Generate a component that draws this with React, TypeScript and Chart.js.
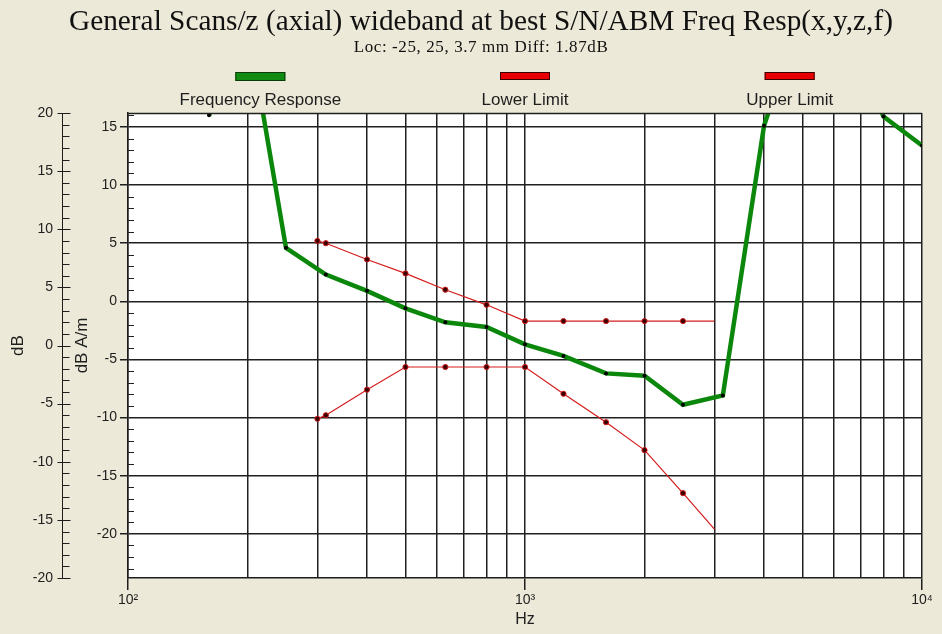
import React, { useEffect, useRef } from 'react';
import { Chart, registerables } from 'chart.js';

Chart.register(...registerables);

// Measured field response (1/3-octave bands)
const responseFreqs = [160, 200, 250, 315, 400, 500, 630, 800, 1000, 1250, 1600, 2000, 2500, 3150, 4000, 5000, 6300, 8000, 10000];
const responseDb = [16.0, 24.0, 4.6, 2.3, 0.9, -0.6, -1.8, -2.2, -3.7, -4.7, -6.2, -6.4, -8.9, -8.1, 15.1, 25.0, 24.0, 15.9, 13.4];

// Tolerance mask
const limitFreqs = [300, 315, 400, 500, 630, 800, 1000, 1250, 1600, 2000, 2500, 3000];
const lowerLimitDb = [-10.1, -9.8, -7.6, -5.65, -5.65, -5.65, -5.65, -7.95, -10.4, -12.8, -16.5, -19.6];
const upperLimitDb = [5.2, 5.0, 3.6, 2.4, 1.0, -0.3, -1.7, -1.7, -1.7, -1.7, -1.7, -1.7];

// Axis ticks
const decadeLabels: Record<number, string> = { 100: '10\u00B2', 1000: '10\u00B3', 10000: '10\u2074' };
const innerTicks = [-20, -15, -10, -5, 0, 5, 10, 15];
const outerTicks = [-20, -15, -10, -5, 0, 5, 10, 15, 20];
const innerRange = [-23.8, 16.2];
const outerRange = [-20, 20];

const TITLE = 'General Scans/z (axial) wideband at best S/N/ABM Freq Resp(x,y,z,f)';
const SUBTITLE = 'Loc: -25, 25, 3.7 mm Diff: 1.87dB';

const SANS = '"Liberation Sans", Arial, sans-serif';
const SERIF = '"Liberation Serif", "Times New Roman", serif';
const INK = '#1e1e1e';
const GRID = '#202020';

const pts = (xs: number[], ys: number[]) => xs.map((x, i) => ({ x, y: ys[i] }));

const isDecade = (v: number) => Object.prototype.hasOwnProperty.call(decadeLabels, v);

// Heading block: title and location line, centred over the axes and plot
const heading = {
  id: 'heading',
  afterDraw(chart: any) {
    const { ctx } = chart;
    const cx = 481;
    ctx.save();
    ctx.fillStyle = '#111';
    ctx.textAlign = 'center';
    ctx.textBaseline = 'alphabetic';
    ctx.font = `29.3px ${SERIF}`;
    ctx.fillText(TITLE, cx, 29.5);
    ctx.font = `17px ${SERIF}`;
    (ctx as any).letterSpacing = '0.6px';
    ctx.fillText(SUBTITLE, cx, 51.5);
    (ctx as any).letterSpacing = '0px';
    ctx.restore();
  },
};

// White plot area, minor tick marks, frame top and the outer dB axis marks
const plotDecor = {
  id: 'plotDecor',
  beforeDraw(chart: any) {
    const { ctx, chartArea: ca } = chart;
    ctx.save();
    ctx.fillStyle = '#ffffff';
    ctx.fillRect(ca.left, ca.top, ca.right - ca.left, ca.bottom - ca.top);
    ctx.restore();
  },
  afterDraw(chart: any) {
    const { ctx, chartArea: ca } = chart;
    const inner = chart.scales.y;
    const outer = chart.scales.yOuter;
    const seg = (x1: number, y1: number, x2: number, y2: number) => {
      ctx.beginPath();
      ctx.moveTo(x1, y1);
      ctx.lineTo(x2, y2);
      ctx.stroke();
    };
    ctx.save();
    ctx.strokeStyle = INK;
    ctx.lineWidth = 1;
    for (let v = Math.ceil(inner.min); v <= Math.floor(inner.max); v++) {
      if (v % 5 === 0) continue;
      const y = Math.round(inner.getPixelForValue(v)) + 0.5;
      seg(ca.left, y, ca.left + 6, y);
    }
    const ox = Math.round(outer.right) + 0.5;
    for (let v = outer.min; v <= outer.max; v++) {
      const y = Math.round(outer.getPixelForValue(v)) + 0.5;
      if (v % 5 === 0) seg(ox - 5, y, ox + 8, y);
      else seg(ox, y, ox + 7, y);
    }
    ctx.lineWidth = 1.5;
    ctx.strokeStyle = GRID;
    const ty = Math.round(ca.top) + 0.5;
    seg(ca.left, ty, ca.right, ty);
    ctx.restore();
  },
};

// Legend: swatch above each label, one column per series across the plot width
const stackedLegend = {
  id: 'stackedLegend',
  afterDraw(chart: any) {
    const { ctx, chartArea: ca } = chart;
    const sets = chart.data.datasets;
    const colW = (ca.right - ca.left) / sets.length;
    ctx.save();
    sets.forEach((ds: any, i: number) => {
      const cx = ca.left + colW * (i + 0.5);
      const h = i === 0 ? 9 : 8;
      ctx.fillStyle = ds.legendFill;
      ctx.fillRect(cx - 25, 72, 50, h);
      ctx.strokeStyle = ds.legendEdge;
      ctx.lineWidth = 1;
      ctx.strokeRect(cx - 25 + 0.5, 72.5, 49, h - 1);
      ctx.fillStyle = INK;
      ctx.font = `17px ${SANS}`;
      ctx.textAlign = 'center';
      ctx.textBaseline = 'alphabetic';
      ctx.fillText(ds.label, cx, 105);
    });
    ctx.restore();
  },
};

export default function App() {
  const canvasRef = useRef<HTMLCanvasElement | null>(null);

  useEffect(() => {
    const canvas = canvasRef.current;
    if (!canvas) return;
    const lastLimit = limitFreqs.length - 1;
    const limitRadius = limitFreqs.map((_, i) => (i === lastLimit ? 0 : 2.6));

    const chart = new Chart(canvas, {
      type: 'line',
      data: {
        datasets: [
          {
            label: 'Frequency Response',
            data: pts(responseFreqs, responseDb),
            borderColor: '#0b870b',
            borderWidth: 4.5,
            pointRadius: 2,
            pointBackgroundColor: '#000000',
            pointBorderWidth: 0,
            tension: 0,
            clip: 0,
            legendFill: '#118a11',
            legendEdge: '#0a3a0a',
          } as any,
          {
            label: 'Lower Limit',
            data: pts(limitFreqs, lowerLimitDb),
            borderColor: '#d41c1c',
            borderWidth: 1.2,
            pointRadius: limitRadius,
            pointBackgroundColor: '#3a0000',
            pointBorderColor: '#d41c1c',
            pointBorderWidth: 1,
            tension: 0,
            clip: 0,
            legendFill: '#e80000',
            legendEdge: '#3a0000',
          } as any,
          {
            label: 'Upper Limit',
            data: pts(limitFreqs, upperLimitDb),
            borderColor: '#d41c1c',
            borderWidth: 1.2,
            pointRadius: limitRadius,
            pointBackgroundColor: '#3a0000',
            pointBorderColor: '#d41c1c',
            pointBorderWidth: 1,
            tension: 0,
            clip: 0,
            legendFill: '#e80000',
            legendEdge: '#3a0000',
          } as any,
        ],
      },
      options: {
        responsive: false,
        animation: false,
        layout: { padding: { left: 0, right: 20, top: 113, bottom: 0 } },
        plugins: {
          legend: { display: false },
          tooltip: { enabled: false },
          title: { display: false },
          subtitle: { display: false },
        },
        scales: {
          x: {
            type: 'logarithmic',
            min: 100,
            max: 10000,
            afterBuildTicks: (scale: any) => {
              const t: { value: number }[] = [];
              [100, 1000].forEach((d) => {
                for (let m = 1; m <= 9; m++) t.push({ value: m * d });
              });
              t.push({ value: 10000 });
              scale.ticks = t;
            },
            afterFit: (scale: any) => {
              scale.height = 56;
            },
            grid: {
              color: GRID,
              lineWidth: 1.5,
              tickLength: 12,
              tickColor: (c: any) => (c.tick && isDecade(c.tick.value) ? INK : 'rgba(0,0,0,0)'),
            },
            border: { color: INK, width: 1.5 },
            ticks: {
              autoSkip: false,
              maxRotation: 0,
              padding: 2,
              color: INK,
              font: { family: SANS, size: 14 },
              callback: (v: any) => decadeLabels[Number(v)] ?? '',
            },
            title: {
              display: true,
              text: 'Hz',
              color: INK,
              font: { family: SANS, size: 16 },
              padding: { top: 0, bottom: 5 },
            },
          },
          y: {
            type: 'linear',
            position: 'left',
            weight: 0,
            min: innerRange[0],
            max: innerRange[1],
            afterBuildTicks: (scale: any) => {
              scale.ticks = innerTicks.map((value) => ({ value }));
            },
            afterFit: (scale: any) => {
              scale.width = 66;
            },
            grid: { color: GRID, lineWidth: 1.5, tickLength: 8, tickColor: INK },
            border: { color: INK, width: 1.5 },
            ticks: { padding: 3, color: INK, font: { family: SANS, size: 14 } },
            title: {
              display: true,
              text: 'dB A/m',
              color: INK,
              font: { family: SANS, size: 17 },
              padding: { top: 9.8, bottom: 0 },
            },
          },
          yOuter: {
            type: 'linear',
            position: 'left',
            weight: 10,
            min: outerRange[0],
            max: outerRange[1],
            afterBuildTicks: (scale: any) => {
              scale.ticks = outerTicks.map((value) => ({ value }));
            },
            afterFit: (scale: any) => {
              scale.width = 62;
            },
            grid: { display: true, drawOnChartArea: false, tickLength: 7, tickColor: 'rgba(0,0,0,0)' },
            border: { color: INK, width: 1 },
            ticks: { padding: 2, color: INK, font: { family: SANS, size: 14 } },
            title: {
              display: true,
              text: 'dB',
              color: INK,
              font: { family: SANS, size: 17 },
              padding: { top: 7.8, bottom: 0 },
            },
          },
        },
      } as any,
      plugins: [plotDecor, stackedLegend, heading],
    });

    return () => chart.destroy();
  }, []);

  return (
    <div
      style={{
        position: 'fixed',
        left: 0,
        top: 0,
        width: 942,
        height: 634,
        background: '#ECE9D8',
      }}
    >
      <canvas ref={canvasRef} width={942} height={634} style={{ display: 'block' }} />
    </div>
  );
}
